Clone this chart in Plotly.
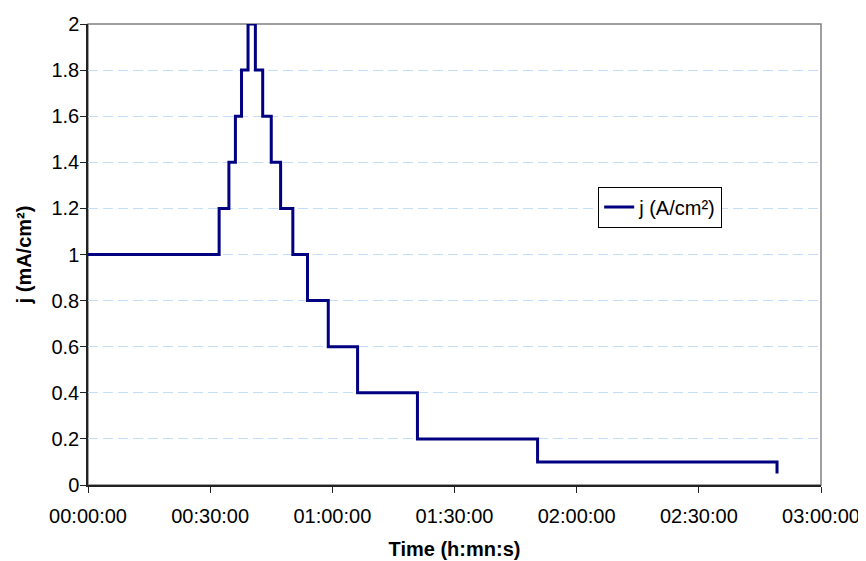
import plotly.graph_objects as go

# Step changes: time (minutes) and current density value held from that time
time_min = [0, 32.2, 34.6, 36.2, 37.7, 39.3, 41.1, 42.9, 45.0, 47.3, 50.3,
            53.9, 59.0, 66.2, 80.9, 110.4, 169.2]
j_values = [1.0, 1.2, 1.4, 1.6, 1.8, 2.0, 1.8, 1.6, 1.4, 1.2, 1.0,
            0.8, 0.6, 0.4, 0.2, 0.1, 0.05]

x_tick_vals = [0, 30, 60, 90, 120, 150, 180]
x_tick_text = ["00:00:00", "00:30:00", "01:00:00", "01:30:00",
               "02:00:00", "02:30:00", "03:00:00"]
y_tick_vals = [0, 0.2, 0.4, 0.6, 0.8, 1, 1.2, 1.4, 1.6, 1.8, 2]

FONT = "Liberation Sans, Arial, sans-serif"

fig = go.Figure()
fig.add_trace(go.Scatter(
    x=time_min, y=j_values, mode="lines", line_shape="hv",
    line=dict(color="#000080", width=3),
    name="j (A/cm²)",
))

# The page body adds an 8px offset, so the figure is sized to fit the window.
fig.update_layout(
    width=858, height=553,
    margin=dict(l=80, r=45, t=16, b=76, autoexpand=False),
    paper_bgcolor="white", plot_bgcolor="white",
    font=dict(family=FONT, size=20, color="black"),
    showlegend=True,
    legend=dict(x=0.696, y=0.603, xanchor="left", yanchor="middle",
                bordercolor="black", borderwidth=1, bgcolor="white",
                font=dict(size=20), itemwidth=30,
                tracegroupgap=0),
    shapes=[dict(type="rect", xref="paper", yref="paper", x0=0, y0=0, x1=1, y1=1,
                 line=dict(color="#808080", width=1.5), layer="below")],
)

fig.update_xaxes(
    range=[0, 180], tickvals=x_tick_vals, ticktext=x_tick_text,
    showgrid=False, zeroline=False, automargin=False,
    showline=True, linecolor="#222", linewidth=1.5,
    ticks="outside", ticklen=6, tickcolor="#222", ticklabelstandoff=6,
    title=dict(text="<b>Time (h:mn:s)</b>", font=dict(size=20), standoff=16),
)
fig.update_yaxes(
    range=[0, 2], tickvals=y_tick_vals, automargin=False,
    showgrid=True, gridcolor="#c4def8", griddash="10px,5px", gridwidth=1,
    zeroline=False,
    showline=True, linecolor="#222", linewidth=1.5,
    ticks="outside", ticklen=6, tickcolor="#222", ticklabelstandoff=-3,
    title=dict(text="<b>j (mA/cm²)</b>", font=dict(size=20), standoff=14),
)

fig.write_html("out.html")
